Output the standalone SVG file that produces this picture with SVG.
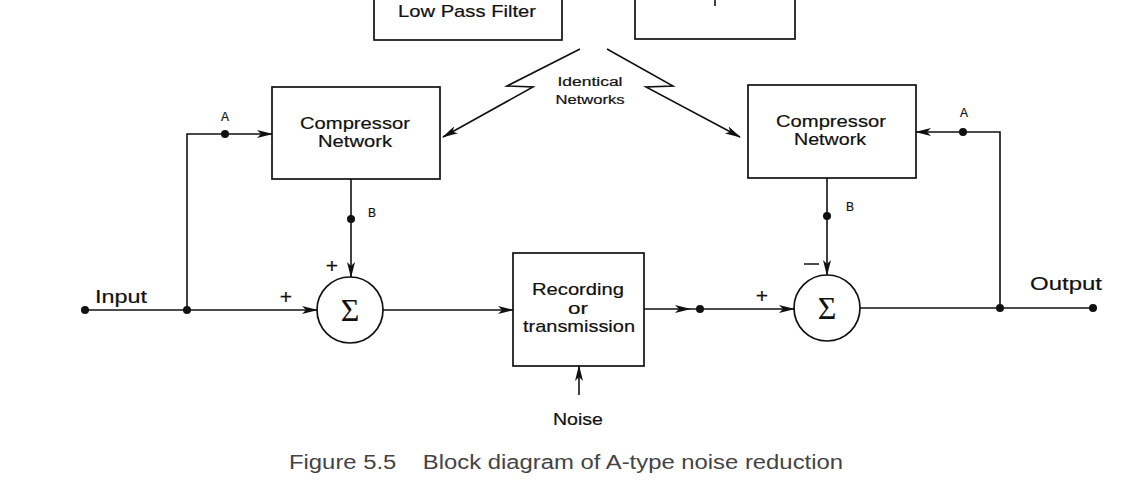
<svg xmlns="http://www.w3.org/2000/svg" width="1132" height="489" viewBox="0 0 1132 489">
<defs>
<marker id="arr" markerWidth="16" markerHeight="8" refX="15" refY="4" orient="auto" markerUnits="userSpaceOnUse">
<path d="M0,0 L16,4 L0,8 L4,4 Z" fill="#111"/>
</marker>
<style>
.ln{stroke:#111;stroke-width:1.6;fill:none}
.bx{stroke:#111;stroke-width:1.7;fill:#fff}
.t{font-family:"Liberation Sans",Arial,sans-serif;fill:#111;text-anchor:middle;stroke:#111;stroke-width:0.2}
.lbl{font-size:17px}
.sm{font-size:12px}
.dot{fill:#111}
.sig{font-family:"Liberation Serif","Times New Roman",serif;font-size:32px;fill:#111;text-anchor:middle}
</style>
</defs>
<rect width="1132" height="489" fill="#fff"/>

<g id="lpf">
<rect class="bx" x="374" y="-10" width="188" height="50"/>
<text class="t lbl" x="467" y="17" textLength="138" lengthAdjust="spacingAndGlyphs">Low Pass Filter</text>
</g>
<g id="topright">
<rect class="bx" x="635" y="-10" width="160" height="49"/>
<line class="ln" x1="715" y1="0" x2="715" y2="6"/>
</g>

<g id="comp-left">
<rect class="bx" x="272" y="87" width="168" height="92"/>
<text class="t lbl" x="355" y="129" textLength="110" lengthAdjust="spacingAndGlyphs">Compressor</text>
<text class="t lbl" x="355" y="147" textLength="74" lengthAdjust="spacingAndGlyphs">Network</text>
</g>
<g id="comp-right">
<rect class="bx" x="748" y="85" width="168" height="93"/>
<text class="t lbl" x="831" y="127" textLength="110" lengthAdjust="spacingAndGlyphs">Compressor</text>
<text class="t lbl" x="830" y="145" textLength="72" lengthAdjust="spacingAndGlyphs">Network</text>
</g>
<g id="sum-left">
<circle class="bx" cx="350" cy="310" r="33"/>
<text class="sig" x="350" y="321">Σ</text>
</g>
<g id="sum-right">
<circle class="bx" cx="827" cy="308" r="33"/>
<text class="sig" x="827" y="319">Σ</text>
</g>
<g id="rec">
<rect class="bx" x="513" y="253" width="131" height="113"/>
<text class="t lbl" x="578" y="295" textLength="92" lengthAdjust="spacingAndGlyphs">Recording</text>
<text class="t lbl" x="578" y="314" textLength="20" lengthAdjust="spacingAndGlyphs">or</text>
<text class="t lbl" x="579" y="332" textLength="112" lengthAdjust="spacingAndGlyphs">transmission</text>
</g>
<g id="identical">
<text class="t sm" x="590" y="86" textLength="65" lengthAdjust="spacingAndGlyphs" stroke-width="0.1">Identical</text>
<text class="t sm" x="590" y="104" textLength="69" lengthAdjust="spacingAndGlyphs" stroke-width="0.1">Networks</text>
</g>

<g id="connectors">
<polyline class="ln" points="580,49 507,86 533,87 443,137" marker-end="url(#arr)"/>
<polyline class="ln" points="607,49 673,86 646,87 740,137" marker-end="url(#arr)"/>
<line class="ln" x1="85" y1="310" x2="317" y2="310" marker-end="url(#arr)"/>
<polyline class="ln" points="187,310 187,134 272,134" marker-end="url(#arr)"/>
<line class="ln" x1="351" y1="179" x2="351" y2="277" marker-end="url(#arr)"/>
<line class="ln" x1="383" y1="310" x2="513" y2="310" marker-end="url(#arr)"/>
<line class="ln" x1="644" y1="309" x2="690" y2="309" marker-end="url(#arr)"/>
<line class="ln" x1="690" y1="309" x2="794" y2="309" marker-end="url(#arr)"/>
<line class="ln" x1="579" y1="395" x2="579" y2="366" marker-end="url(#arr)"/>
<line class="ln" x1="827" y1="178" x2="827" y2="275" marker-end="url(#arr)"/>
<line class="ln" x1="860" y1="308" x2="1093" y2="308"/>
<polyline class="ln" points="1000,308 1000,132 916,132" marker-end="url(#arr)"/>
<circle class="dot" cx="85" cy="310" r="4"/>
<circle class="dot" cx="187" cy="310" r="4"/>
<circle class="dot" cx="225" cy="134" r="4"/>
<circle class="dot" cx="351" cy="219" r="4"/>
<circle class="dot" cx="700" cy="309" r="4"/>
<circle class="dot" cx="827" cy="216" r="4"/>
<circle class="dot" cx="963" cy="132" r="4"/>
<circle class="dot" cx="1000" cy="308" r="4"/>
<circle class="dot" cx="1093" cy="308" r="4"/>
</g>

<g id="labels">
<text class="t sm" x="225" y="121">A</text>
<text class="t sm" x="372" y="217">B</text>
<text class="t sm" x="964" y="117">A</text>
<text class="t sm" x="850" y="211">B</text>
<text class="t" font-size="21" x="332" y="273">+</text>
<text class="t" font-size="21" x="286" y="304">+</text>
<text class="t" font-size="21" x="762" y="303">+</text>
<line x1="804" y1="264" x2="819" y2="264" stroke="#111" stroke-width="1.5"/>
<text class="t" font-size="19" x="121" y="303" textLength="52" lengthAdjust="spacingAndGlyphs">Input</text>
<text class="t" font-size="19" x="1066" y="290" textLength="72" lengthAdjust="spacingAndGlyphs">Output</text>
<text class="t" font-size="17" x="578" y="425" textLength="50" lengthAdjust="spacingAndGlyphs">Noise</text>
<text font-family="'Liberation Sans',Arial,sans-serif" font-size="20" fill="#444" x="289" y="469" textLength="554" lengthAdjust="spacingAndGlyphs" xml:space="preserve">Figure 5.5    Block diagram of A-type noise reduction</text>
</g>
</svg>
